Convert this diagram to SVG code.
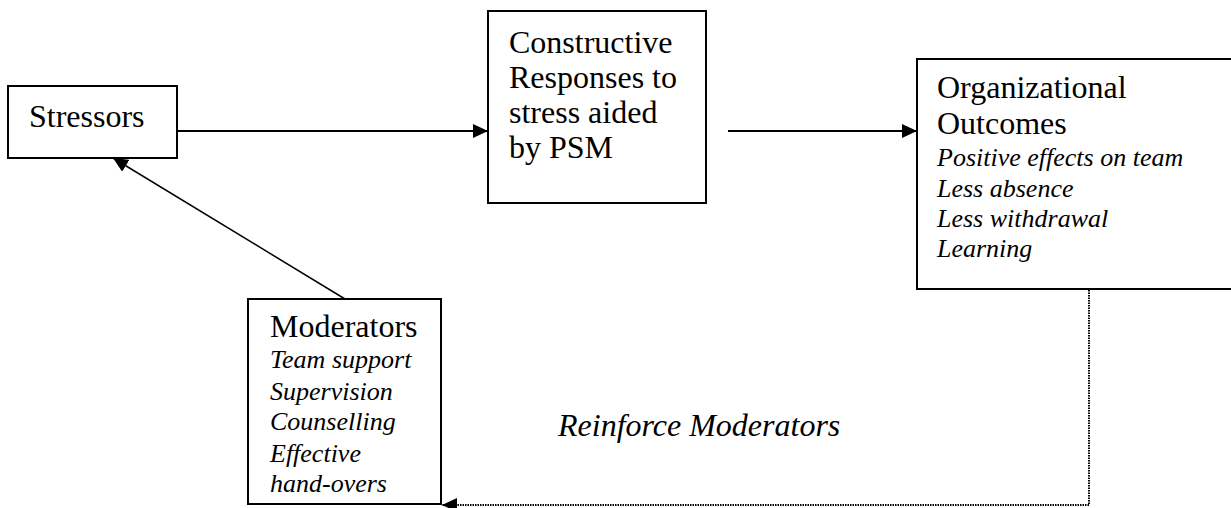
<svg xmlns="http://www.w3.org/2000/svg" width="1231" height="508" viewBox="0 0 1231 508">
  <style>
    .box { fill: #fff; stroke: #000; stroke-width: 2; }
    text { font-family: "Liberation Serif", "DejaVu Serif", serif; fill: #000; }
    .title { font-size: 32px; }
    .item { font-size: 26px; font-style: italic; }
    .label { font-size: 32px; font-style: italic; }
    .solid { fill: none; stroke: #000; stroke-width: 2; }
    .thin { fill: none; stroke: #000; stroke-width: 1.5; }
    .dotted { fill: none; stroke: #000; stroke-width: 2; stroke-dasharray: 1.5 1; }
  </style>
  <defs>
    <marker id="arrow" markerUnits="userSpaceOnUse" markerWidth="16" markerHeight="14" refX="15" refY="7" orient="auto">
      <path d="M0,0 L15,7 L0,14 Z" fill="#000"/>
    </marker>
  </defs>

  <rect width="1231" height="508" fill="#fff"/>

  <g id="connectors">
    <line class="solid" x1="177" y1="131" x2="488" y2="131" marker-end="url(#arrow)"/>
    <line class="solid" x1="728" y1="131" x2="917" y2="131" marker-end="url(#arrow)"/>
    <line class="thin" x1="345" y1="299" x2="113" y2="158" marker-end="url(#arrow)"/>
    <polyline class="dotted" points="1089,290 1089,505 442,505" marker-end="url(#arrow)"/>
  </g>

  <g id="stressors">
    <rect class="box" x="8" y="86" width="169" height="72"/>
    <text class="title" x="29" y="127">Stressors</text>
  </g>

  <g id="responses">
    <rect class="box" x="488" y="11" width="218" height="192"/>
    <text class="title" x="509" y="53">Constructive</text>
    <text class="title" x="509" y="88">Responses to</text>
    <text class="title" x="509" y="123">stress aided</text>
    <text class="title" x="509" y="158">by PSM</text>
  </g>

  <g id="outcomes">
    <rect class="box" x="917" y="59" width="316" height="230"/>
    <text class="title" x="937" y="98">Organizational</text>
    <text class="title" x="937" y="134">Outcomes</text>
    <text class="item" x="937" y="166">Positive effects on team</text>
    <text class="item" x="937" y="197">Less absence</text>
    <text class="item" x="937" y="227">Less withdrawal</text>
    <text class="item" x="937" y="257">Learning</text>
  </g>

  <g id="moderators">
    <rect class="box" x="248" y="299" width="193" height="205"/>
    <text class="title" x="270" y="337">Moderators</text>
    <text class="item" x="270" y="368">Team support</text>
    <text class="item" x="270" y="400">Supervision</text>
    <text class="item" x="270" y="430">Counselling</text>
    <text class="item" x="270" y="462">Effective</text>
    <text class="item" x="270" y="492">hand-overs</text>
  </g>

  <g id="reinforce-label">
    <text class="label" x="558" y="436">Reinforce Moderators</text>
  </g>
</svg>
